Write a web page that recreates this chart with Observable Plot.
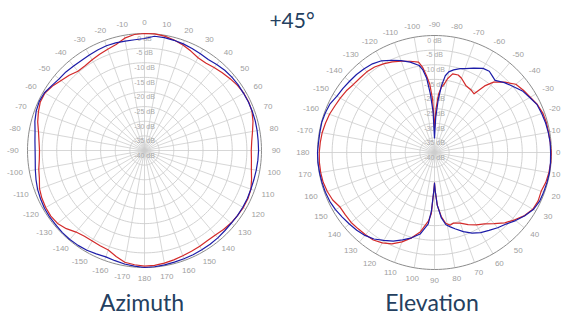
<!DOCTYPE html>
<html>
<head>
<meta charset="utf-8">
<script src="https://cdn.jsdelivr.net/npm/d3@7"></script>
<script src="https://cdn.jsdelivr.net/npm/@observablehq/plot@0.6"></script>
<style>
  body { margin: 0; background: #fff; overflow: hidden; }
  #wrap { position: relative; width: 561px; height: 320px; overflow: hidden; background: #fff; }
  .plot { position: absolute; width: 290px; height: 290px; }
  .txt { position: absolute; font-family: Lato, "Open Sans", sans-serif; color: #24405f; white-space: nowrap; transform: translateX(-50%); }
  #title { left: 292px; top: 7px; font-size: 21px; }
  #capAz { left: 142px; top: 288px; font-size: 23px; }
  #capEl { left: 432px; top: 288px; font-size: 23px; }
</style>
</head>
<body>
<div id="wrap">
  <div id="title" class="txt">+45°</div>
  <div id="az" class="plot" style="left:-1px; top:5px;"></div>
  <div id="el" class="plot" style="left:289px; top:7px;"></div>
  <div id="capAz" class="txt">Azimuth</div>
  <div id="capEl" class="txt">Elevation</div>
</div>
<script>
// Radial grid: rings every 5 dB, 0 dB on the outer ring, -40 dB at the centre
const ringLevels = [-35, -30, -25, -20, -15, -10, -5];
const dbLabels = [0, -5, -10, -15, -20, -25, -30, -35, -40];

// Angle tick labels (degrees)
const azTicks = [0, 10, 20, 30, 40, 50, 60, 70, 80, 90, 100, 110, 120, 130, 140, 150, 160, 170, 180,
  -170, -160, -150, -140, -130, -120, -110, -100, -90, -80, -70, -60, -50, -40, -30, -20, -10];
const elTicks = [-90, -80, -70, -60, -50, -40, -30, -20, -10, 0, 10, 20, 30, 40, 50, 60, 70, 80, 90,
  100, 110, 120, 130, 140, 150, 160, 170, 180, -170, -160, -150, -140, -130, -120, -110, -100];

// Azimuth cut (dB)
const azAngles = [-175, -170, -165, -160, -155, -150, -145, -140, -135, -130, -125, -120, -115, -110, -105, -100,
  -95, -90, -85, -80, -75, -70, -65, -60, -55, -50, -45, -40, -35, -30, -25, -20, -15, -10, -5,
  0, 5, 10, 15, 20, 25, 30, 35, 40, 45, 50, 55, 60, 65, 70, 75, 80, 85, 90, 95, 100, 105, 110, 115,
  120, 125, 130, 135, 140, 145, 150, 155, 160, 165, 170, 175, 180];
const azRed = [-0.8, -1.2, -2.5, -3.8, -4.1, -4.3, -4.2, -3.6, -2.2, -1.2, -0.9, -1.0, -1.3, -1.8, -2.8, -3.3,
  -3.9, -4.1, -3.8, -3.2, -2.2, -1.4, -0.7, -0.7, -1.6, -2.8, -3.6, -4.6, -4.6, -4.2, -3.7, -3.2, -2.5, -1.0, -0.2,
  0, 0, -0.3, -0.9, -1.6, -2.5, -3.4, -3.5, -3.0, -2.4, -1.8, -1.2, -0.8, -0.7, -0.9, -1.6, -2.5, -3.2, -3.5, -3.3, -2.9, -2.1, -1.3, -1.0,
  -1.0, -1.2, -1.4, -1.8, -2.3, -2.4, -2.2, -2.0, -1.7, -1.3, -0.9, -0.6, -0.5];
const azBlue = [-0.3, -0.6, -1.0, -1.3, -1.0, -0.6, -0.4, -0.3, -0.3, -0.4, -0.4, -0.5, -0.8, -1.1, -1.6, -2.1,
  -2.5, -2.6, -2.4, -2.0, -1.2, -0.6, -0.3, -0.5, -1.3, -1.9, -2.0, -2.3, -2.4, -2.3, -2.1, -1.9, -1.9, -2.0, -2.0,
  -1.7, -0.8, -0.8, -1.0, -1.2, -1.5, -1.8, -2.0, -1.6, -1.2, -1.0, -0.9, -0.9, -0.8, -0.8, -0.8, -0.9, -1.0, -1.0, -1.1, -1.2, -1.3, -1.3, -1.2,
  -1.2, -1.2, -1.3, -1.2, -1.0, -0.9, -0.8, -0.7, -0.6, -0.5, -0.3, -0.1, 0];

// Elevation cut (dB)
const elAngles = [-175, -170, -165, -160, -155, -150, -145, -140, -135, -130, -125, -120, -115, -110, -105, -100,
  -98, -96, -94, -92, -90, -88, -86, -84, -82, -80, -77, -73, -70, -65, -60, -56, -53, -50, -45, -40, -35, -30,
  -25, -20, -15, -10, -5, 0, 5, 10, 15, 20, 25, 30, 35, 40, 45, 50, 55, 60, 65, 70, 75, 78, 81, 84, 87, 89, 90,
  91, 93, 95, 100, 105, 110, 115, 120, 125, 130, 135, 140, 145, 150, 155, 160, 165, 170, 175, 180];
const elRed = [-0.8, -1.0, -1.4, -1.8, -2.4, -2.8, -3.2, -3.8, -4.0, -4.0, -4.3, -5.0, -5.8, -6.8, -7.7, -8.6,
  -10.5, -13.5, -16.5, -22, -31.5, -25, -20, -17.5, -16.5, -14.4, -12.4, -12.3, -13, -14.7, -15.2, -15.8, -11.5, -8.6, -6.0, -3.7, -2.9, -2.2,
  -1.2, -0.6, -0.4, -0.4, -0.3, -0.1, -0.1, -0.3, -0.6, -1.2, -0.9, -1.2, -2.4, -4.2, -6.0, -8.3, -10.2, -11.4, -12.8, -14.3, -15.0, -14.6, -15.5, -18, -22, -27, -29.5,
  -27, -19, -16.5, -12.5, -9.8, -7.5, -5.5, -4.3, -3.5, -3.3, -3.1, -2.8, -2.8, -2.7, -1.6, -1.0, -0.6, -0.5, -0.5, -0.6];
const elBlue = [-0.2, -0.2, -0.1, -0.3, -0.6, -1.5, -1.8, -2.1, -2.3, -2.6, -3.0, -3.8, -5.2, -6.6, -8.0, -9.8,
  -11.5, -14.5, -20, -26, -35, -28, -22, -17, -13.5, -12, -11, -10, -9.5, -8.2, -6.8, -6.5, -7.2, -7.8, -6.2, -4.9, -3.3, -2.4,
  -1.3, -1.0, -0.7, -0.5, -0.3, -0.3, -0.2, -0.1, -0.2, -0.3, -0.4, -1.0, -2.3, -3.8, -5.4, -6.4, -7.5, -8.4, -9.6, -11.2, -13.0, -14.0, -15, -17.5, -22, -27, -29.5,
  -27, -20, -15.5, -11.7, -9.8, -8.2, -6.6, -5.3, -3.9, -3.0, -2.4, -2.0, -1.5, -0.9, -0.5, -0.3, -0.2, -0.1, 0, 0];

const RED = "#d32a2a";
const BLUE = "#1c1ca8";
const LABEL_FONT = "Liberation Sans, Arial, sans-serif";

const SPAN = 40;                 // dB from centre to outer ring
const SIZE = 290;                // svg size, px
const RING_PX = 117;             // outer ring radius, px
const HALF = (SIZE / 2) * SPAN / RING_PX;
const PX = SPAN / RING_PX;       // data units per pixel

const rad = d => d * Math.PI / 180;
function polar(pos, db) {
  const r = Math.max(0, db + SPAN);
  return {x: r * Math.sin(rad(pos)), y: r * Math.cos(rad(pos))};
}

// maxRightPx: right-most pixel (inside the svg) a tick label may reach
function polarChart(angles, red, blue, ticks, toPos, maxRightPx) {
  const circle = d3.range(0, 361, 2);
  const rings = ringLevels.flatMap(level => circle.map(a => ({level, ...polar(a, level)})));
  const outer = circle.map(a => polar(a, 0));
  const spokes = d3.range(0, 360, 10).map(a => polar(a, 0));
  const redPts = angles.map((a, i) => polar(toPos(a), red[i]));
  const bluePts = angles.map((a, i) => polar(toPos(a), blue[i]));
  const tickPts = ticks.map(t => {
    const p = rad(toPos(t));
    const s = Math.sin(p);
    const r = 43.7 + 1.3 * Math.abs(s);
    const label = String(t);
    let x = r * s;
    const halfW = label.length * 2.3;
    const cx = SIZE / 2 + x / PX;
    const clipped = cx + halfW > maxRightPx;
    if (clipped) x = (maxRightPx - SIZE / 2) * PX;
    return {label, x, y: 43.7 * Math.cos(p), clipped};
  });
  const tickStyle = {x: "x", y: "y", text: "label", fill: "#a0a0a0", fontSize: 8, fontFamily: LABEL_FONT};
  return Plot.plot({
    width: SIZE,
    height: SIZE,
    margin: 0,
    style: {background: "transparent", overflow: "visible"},
    x: {domain: [-HALF, HALF], axis: null},
    y: {domain: [-HALF, HALF], axis: null},
    marks: [
      Plot.link(spokes, {x1: () => 0, y1: () => 0, x2: "x", y2: "y", stroke: "#cdcdcd", strokeWidth: 0.8}),
      Plot.line(rings, {x: "x", y: "y", z: "level", stroke: "#cdcdcd", strokeWidth: 0.9}),
      Plot.line(outer, {x: "x", y: "y", stroke: "#8c8c8c", strokeWidth: 1}),
      Plot.text(dbLabels, {x: () => 0, y: d => d + SPAN, text: d => `${d} dB`, dy: 5,
        fill: "#aaaaaa", fontSize: 7, fontFamily: LABEL_FONT}),
      Plot.text(tickPts.filter(d => !d.clipped), tickStyle),
      Plot.text(tickPts.filter(d => d.clipped), {...tickStyle, textAnchor: "end"}),
      Plot.line(redPts, {x: "x", y: "y", stroke: RED, strokeWidth: 1.2, curve: "linear-closed"}),
      Plot.line(bluePts, {x: "x", y: "y", stroke: BLUE, strokeWidth: 1.2, curve: "linear-closed"})
    ]
  });
}

// left offsets of the two panels on the page
const AZ_LEFT = -1, EL_LEFT = 289, PAGE_W = 561;
document.getElementById("az").append(polarChart(azAngles, azRed, azBlue, azTicks, a => a, PAGE_W - AZ_LEFT - 1));
document.getElementById("el").append(polarChart(elAngles, elRed, elBlue, elTicks, e => e + 90, PAGE_W - EL_LEFT - 1));
</script>
</body>
</html>
